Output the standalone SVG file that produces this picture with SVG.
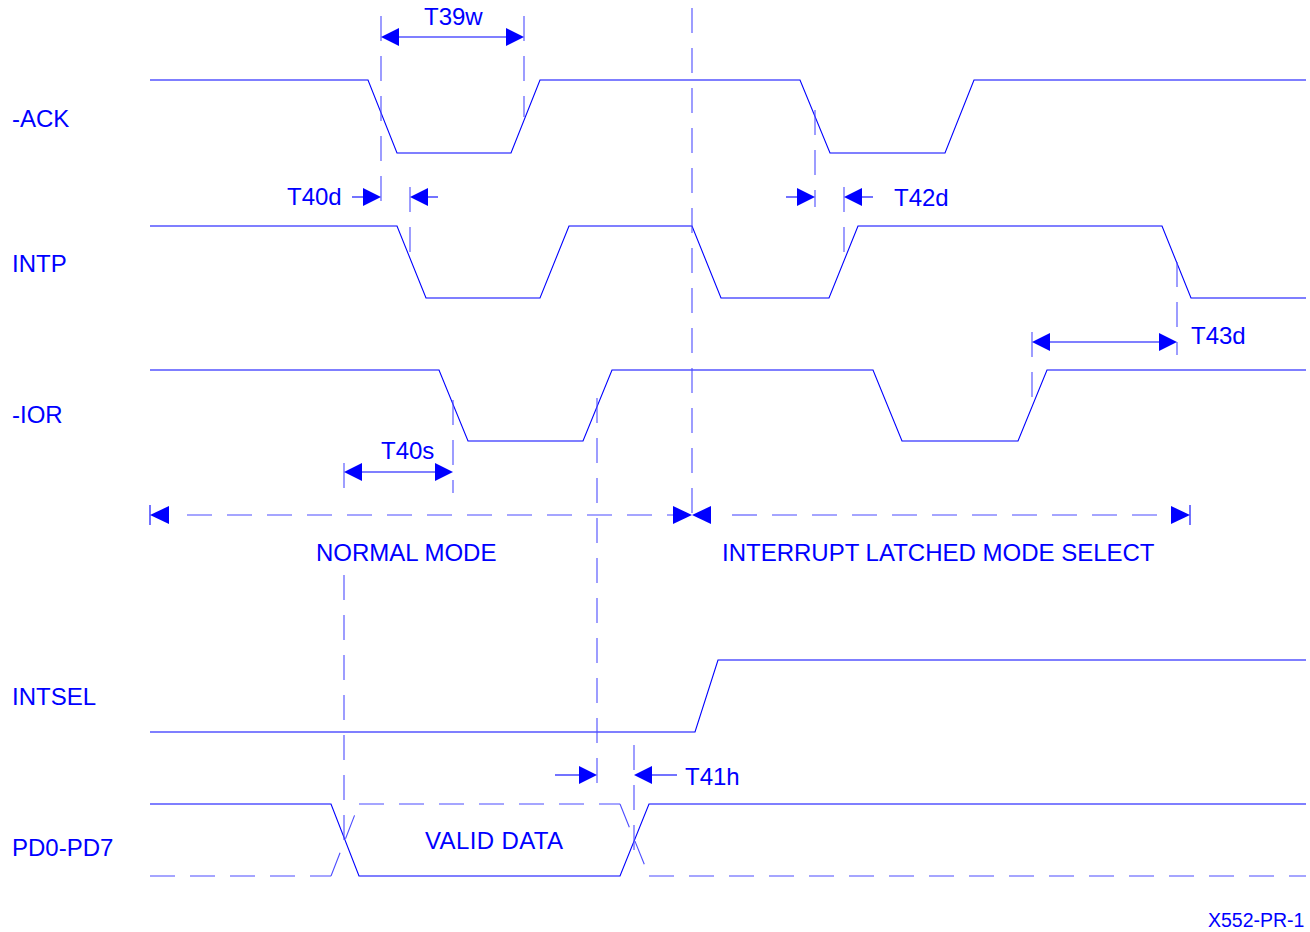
<svg xmlns="http://www.w3.org/2000/svg" width="1310" height="932" viewBox="0 0 1310 932">
  <defs>
    <style>
      .sig { fill: none; stroke: #0000ff; stroke-width: 1.1; }
      .dash { fill: none; stroke: #4d4dff; stroke-width: 1.1; stroke-dasharray: 25 15; }
      .dim { fill: none; stroke: #0000ff; stroke-width: 1.1; }
      .ah { fill: #0000ff; stroke: none; }
      .lbl { font-family: "Liberation Sans", Arial, sans-serif; font-size: 24px; fill: #0000ff; }
      .small { font-family: "Liberation Sans", Arial, sans-serif; font-size: 19.5px; fill: #0000ff; }
    </style>
  </defs>
  <rect width="1310" height="932" fill="#ffffff"/>

  <g id="labels">
    <text class="lbl" x="12" y="127">-ACK</text>
    <text class="lbl" x="12" y="272">INTP</text>
    <text class="lbl" x="12" y="423">-IOR</text>
    <text class="lbl" x="12" y="705">INTSEL</text>
    <text class="lbl" x="12" y="856">PD0-PD7</text>
  </g>

  <g id="signal-ack">
    <path class="sig" d="M150,80 H368 L397,153 H511 L540,80 H800 L830,153 H945 L974,80 H1306"/>
  </g>
  <g id="signal-intp">
    <path class="sig" d="M150,226 H397 L426,298 H540 L569,226 H692 L721,298 H829 L858,226 H1162 L1191,298 H1306"/>
  </g>
  <g id="signal-ior">
    <path class="sig" d="M150,370 H439 L468,441 H583 L612,370 H873 L902,441 H1018 L1047,370 H1306"/>
  </g>
  <g id="signal-intsel">
    <path class="sig" d="M150,732 H695 L718,660 H1306"/>
  </g>
  <g id="signal-pd">
    <path class="sig" d="M150,804 H331 L359,876 H620 L649,804 H1306"/>
    <path class="dash" d="M150,876 H331"/>
    <path class="dash" d="M331,876 L359,804"/>
    <path class="dash" d="M359,804 H620"/>
    <path class="dash" d="M620,804 L649,876"/>
    <path class="dash" d="M649,876 H1306"/>
    <text class="lbl" x="425" y="849" textLength="138">VALID DATA</text>
  </g>

  <g id="connectors">
    <path class="dash" d="M381,16 V215"/>
    <path class="dash" d="M524,16 V117"/>
    <path class="dash" d="M410,187 V258"/>
    <path class="dash" d="M692,8 V525"/>
    <path class="dash" d="M815,110 V207"/>
    <path class="dash" d="M844,187 V255"/>
    <path class="dash" d="M1177,262 V355"/>
    <path class="dash" d="M1032,332 V407"/>
    <path class="dash" d="M453,400 V493"/>
    <path class="dash" d="M344,463 V500"/>
    <path class="dash" d="M344,575 V840"/>
    <path class="dash" d="M597,398 V783"/>
    <path class="dash" d="M634,745 V865"/>

    <path class="dim" d="M399,37 H506"/>
    <polygon class="ah" points="381,37 399,28 399,46"/>
    <polygon class="ah" points="524,37 506,28 506,46"/>

    <path class="dim" d="M352,197 H364"/>
    <polygon class="ah" points="381,197 363,188 363,206"/>
    <path class="dim" d="M427,197 H438"/>
    <polygon class="ah" points="410,197 428,188 428,206"/>

    <path class="dim" d="M786,197 H798"/>
    <polygon class="ah" points="815,197 797,188 797,206"/>
    <path class="dim" d="M861,197 H873"/>
    <polygon class="ah" points="844,197 862,188 862,206"/>

    <path class="dim" d="M1050,342 H1159"/>
    <polygon class="ah" points="1032,342 1050,333 1050,351"/>
    <polygon class="ah" points="1177,342 1159,333 1159,351"/>

    <path class="dim" d="M362,472 H435"/>
    <polygon class="ah" points="344,472 362,463 362,481"/>
    <polygon class="ah" points="453,472 435,463 435,481"/>

    <path class="dim" d="M555,775 H580"/>
    <polygon class="ah" points="597,775 579,766 579,784"/>
    <path class="dim" d="M652,775 H677"/>
    <polygon class="ah" points="634,775 652,766 652,784"/>

    <path class="dim" d="M150,505 V525"/>
    <polygon class="ah" points="150,515 169,506 169,524"/>
    <path class="dash" d="M187,515 H673" stroke-dasharray="24 16"/>
    <polygon class="ah" points="692,515 673,506 673,524"/>
    <polygon class="ah" points="692,515 711,506 711,524"/>
    <path class="dash" d="M732,515 H1171" stroke-dasharray="24 16"/>
    <polygon class="ah" points="1190,515 1171,506 1171,524"/>
    <path class="dim" d="M1190,505 V525"/>
  </g>

  <g id="dimension-labels">
    <text class="lbl" x="424" y="25">T39w</text>
    <text class="lbl" x="287" y="205">T40d</text>
    <text class="lbl" x="894" y="206">T42d</text>
    <text class="lbl" x="1191" y="344">T43d</text>
    <text class="lbl" x="381" y="459">T40s</text>
    <text class="lbl" x="685" y="785">T41h</text>
    <text class="lbl" x="316" y="561">NORMAL MODE</text>
    <text class="lbl" x="722" y="561">INTERRUPT LATCHED MODE SELECT</text>
    <text class="small" x="1208" y="927">X552-PR-1</text>
  </g>
</svg>
